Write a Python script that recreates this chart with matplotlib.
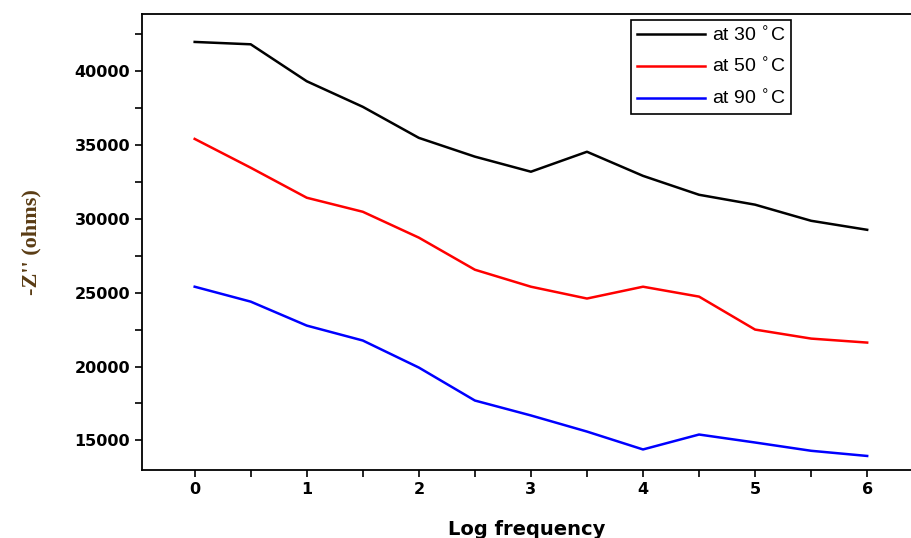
import matplotlib
matplotlib.use("Agg")
import matplotlib.pyplot as plt
from matplotlib.ticker import MultipleLocator

log_freq = [0, 0.5, 1, 1.5, 2, 2.5, 3, 3.5, 4, 4.5, 5, 5.5, 6]
z_30 = [41960, 41800, 39300, 37570, 35470, 34200, 33180, 34530, 32900, 31620, 30950, 29860, 29250]
z_50 = [35400, 33450, 31420, 30470, 28720, 26550, 25400, 24600, 25400, 24730, 22500, 21890, 21620]
z_90 = [25400, 24390, 22770, 21760, 19930, 17700, 16690, 15600, 14390, 15400, 14860, 14300, 13950]
labels = ["at 30 $^{\\circ}$C", "at 50 $^{\\circ}$C", "at 90 $^{\\circ}$C"]


def main():
    fig = plt.figure(figsize=(9.12, 5.38), dpi=100)
    ax = fig.add_axes([142 / 912, 68 / 538, 1 - 142 / 912, 456 / 538])

    ax.plot(log_freq, z_30, color="black", lw=1.8, label=labels[0])
    ax.plot(log_freq, z_50, color="red", lw=1.8, label=labels[1])
    ax.plot(log_freq, z_90, color="blue", lw=1.8, label=labels[2])

    ax.set_xlim(-0.47, 6.4)
    ax.set_ylim(13000, 43850)
    ax.xaxis.set_major_locator(MultipleLocator(1))
    ax.xaxis.set_minor_locator(MultipleLocator(0.5))
    ax.yaxis.set_major_locator(MultipleLocator(5000))
    ax.yaxis.set_minor_locator(MultipleLocator(2500))
    ax.tick_params(which="both", direction="out", length=5, width=1.2, labelsize=11.5)
    ax.spines["right"].set_visible(False)
    for s in ["left", "bottom", "top"]:
        ax.spines[s].set_linewidth(1.3)
    for lab in ax.get_xticklabels() + ax.get_yticklabels():
        lab.set_fontweight("heavy")

    ax.set_xlabel("Log frequency", fontsize=14, fontweight="bold", labelpad=17)
    ax.set_ylabel("-Z'' (ohms)", fontsize=16, fontweight="bold",
                  family="Liberation Serif", color="#5a3c14", labelpad=24)

    leg = ax.legend(loc="upper left", bbox_to_anchor=(0.635, 0.987), borderaxespad=0,
                    fancybox=False, edgecolor="black", framealpha=1,
                    prop={"family": "Liberation Sans", "size": 14},
                    handlelength=3.5, handletextpad=0.35, labelspacing=0.65,
                    borderpad=0.3)
    leg.get_frame().set_linewidth(1.2)

    fig.savefig("out.png", dpi=100)


if __name__ == '__main__':
    main()
